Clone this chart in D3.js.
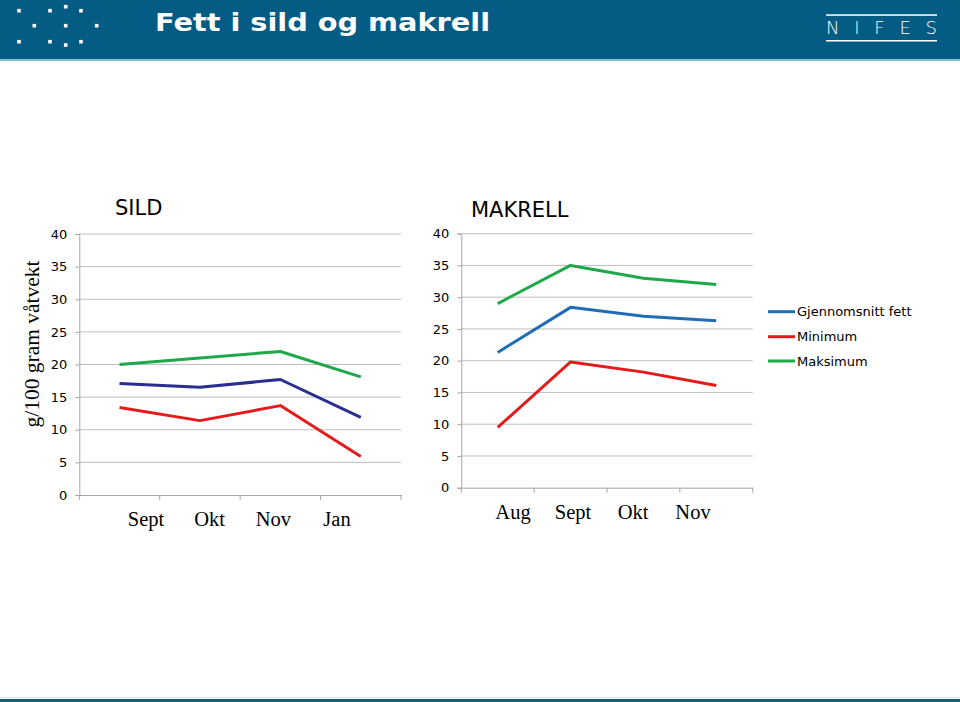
<!DOCTYPE html>
<html><head><meta charset="utf-8">
<script src="https://cdn.jsdelivr.net/npm/d3@7"></script>
<style>body{margin:0;background:#fff}svg{display:block}</style>
</head><body><svg id="c" width="960" height="702"></svg>
<script>
// ---- data ----
const sildMonths = ["Sept","Okt","Nov","Jan"];
const sildMean = [17.1, 16.5, 17.7, 11.9];
const sildMin  = [13.4, 11.4, 13.7, 5.9];
const sildMax  = [20.0, 21.0, 22.0, 18.1];
const makMonths = ["Aug","Sept","Okt","Nov"];
const makMean = [21.3, 28.4, 27.0, 26.3];
const makMin  = [9.5, 19.8, 18.2, 16.1];
const makMax  = [29.0, 35.0, 33.0, 32.0];
const yTicks = [0,5,10,15,20,25,30,35,40];
const legendLabels = ["Gjennomsnitt fett","Minimum","Maksimum"];

const svg = d3.select("#c");
// header
svg.append("rect").attr("x",0).attr("y",0).attr("width",960).attr("height",59).attr("fill","#045b84");
svg.append("rect").attr("x",0).attr("y",59).attr("width",960).attr("height",2).attr("fill","#86bfd3");
const dots = [[19,10.7],[50,10.7],[65.7,6.7],[81,10.7],[34.3,25.7],[65.7,25.7],[96.7,25.7],[19,41.7],[50,41.7],[65.7,45],[81,41.7]];
svg.selectAll("rect.dot").data(dots).join("rect").attr("class","dot")
  .attr("x",d=>d[0]-1.8).attr("y",d=>d[1]-1.8).attr("width",3.6).attr("height",3.6).attr("fill","#fff");
svg.append("text").attr("x",155).attr("y",31).attr("fill","#fff")
  .attr("font-family","DejaVu Sans").attr("font-weight","bold").attr("font-size",25)
  .attr("textLength",335).attr("lengthAdjust","spacingAndGlyphs").text("Fett i sild og makrell");
// NIFES logo
svg.append("rect").attr("x",826).attr("y",14.3).attr("width",111).attr("height",1.5).attr("fill","#fff");
svg.append("rect").attr("x",826).attr("y",40).attr("width",111).attr("height",1.5).attr("fill","#fff");
svg.append("text").attr("x",826).attr("y",34).attr("fill","#fff")
  .attr("font-family","DejaVu Sans").attr("font-weight","300").attr("font-size",18)
  .attr("textLength",111).attr("lengthAdjust","spacing").text("NIFES");
// bottom line
svg.append("rect").attr("x",0).attr("y",697).attr("width",960).attr("height",1).attr("fill","#d6eef5");
svg.append("rect").attr("x",0).attr("y",699).attr("width",960).attr("height",3).attr("fill","#155f7a");

function panel(cfg){
  const g = svg.append("g");
  const x = d3.scaleBand().domain(cfg.months).range([cfg.x0,cfg.x1]);
  const y = d3.scaleLinear().domain([0,40]).range([cfg.y0,cfg.y1]);
  // gridlines
  g.selectAll("line.grid").data(yTicks.slice(1)).join("line")
    .attr("x1",cfg.x0).attr("x2",cfg.x1).attr("y1",d=>y(d)).attr("y2",d=>y(d))
    .attr("stroke","#bfbfbf").attr("stroke-width",1);
  const ya = g.append("g").attr("transform",`translate(${cfg.x0},0)`)
    .call(d3.axisLeft(y).tickValues(yTicks).tickSize(4).tickPadding(8));
  const xa = g.append("g").attr("transform",`translate(0,${cfg.y0})`)
    .call(d3.axisBottom(x).tickValues([]).tickSizeOuter(0));
  // band-edge ticks
  const edges = cfg.months.map(m=>x(m)).concat([cfg.x1]);
  g.selectAll("line.et").data(edges).join("line").attr("x1",d=>d).attr("x2",d=>d)
    .attr("y1",cfg.y0).attr("y2",cfg.y0+5).attr("stroke","#a6a6a6");
  [ya,xa].forEach(a=>{
    a.select(".domain").attr("stroke","#a6a6a6");
    a.selectAll(".tick line").attr("stroke","#a6a6a6");
    a.selectAll("text").attr("font-family","DejaVu Sans").attr("font-size",13).attr("fill","#000");
  });
  const line = d3.line().x((d,i)=>x(cfg.months[i])+x.bandwidth()/2).y(d=>y(d));
  cfg.series.forEach(s=>{
    g.append("path").attr("d",line(s.v)).attr("fill","none").attr("stroke",s.c)
      .attr("stroke-width",3).attr("stroke-linejoin","round");
  });
  // category labels (text box below axis)
  const lx = d3.scalePoint().domain(cfg.months).range(cfg.labelRange);
  g.selectAll("text.cat").data(cfg.months).join("text").attr("class","cat")
    .attr("x",d=>lx(d)).attr("y",cfg.labelY).attr("text-anchor","middle")
    .attr("font-family","Liberation Serif").attr("font-size",20.5).text(d=>d);
  g.append("text").attr("x",cfg.titleX).attr("y",cfg.titleY)
    .attr("font-family","DejaVu Sans").attr("font-size",21).text(cfg.title);
}
panel({months:sildMonths,x0:79.3,x1:401,y0:495,y1:234,labelRange:[146,337],labelY:526,
  title:"SILD",titleX:115,titleY:215,
  series:[{v:sildMax,c:"#1fa84a"},{v:sildMean,c:"#2a2e90"},{v:sildMin,c:"#e31b1b"}]});
panel({months:makMonths,x0:461.3,x1:752.7,y0:487.7,y1:233.7,labelRange:[513,693],labelY:519,
  title:"MAKRELL",titleX:471,titleY:217,
  series:[{v:makMax,c:"#1fa84a"},{v:makMean,c:"#1f6db4"},{v:makMin,c:"#e31b1b"}]});

// y-axis title
svg.append("text").attr("transform","translate(39,344) rotate(-90)").attr("text-anchor","middle")
  .attr("font-family","Liberation Serif").attr("font-size",21.5).text("g/100 gram våtvekt");

// legend
const legColors = ["#1f6db4","#e31b1b","#1fa84a"];
const legY = [311.7,336.7,361];
const lg = svg.append("g");
legendLabels.forEach((t,i)=>{
  lg.append("line").attr("x1",768).attr("x2",795).attr("y1",legY[i]).attr("y2",legY[i])
    .attr("stroke",legColors[i]).attr("stroke-width",3);
  lg.append("text").attr("x",797).attr("y",legY[i]).attr("dy","0.35em")
    .attr("font-family","DejaVu Sans").attr("font-size",13).text(t);
});
</script></body></html>
